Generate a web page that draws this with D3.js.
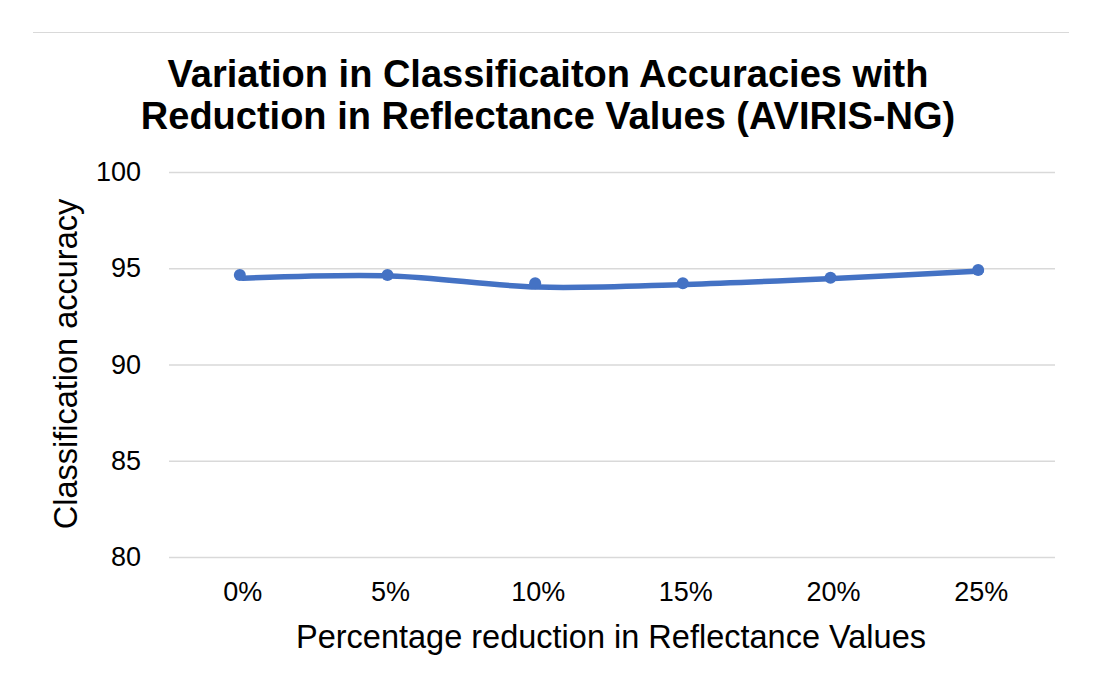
<!DOCTYPE html>
<html>
<head>
<meta charset="utf-8">
<script src="https://cdn.jsdelivr.net/npm/d3@7"></script>
<style>
  body { margin: 0; background: #fff; }
  text { font-family: "Liberation Sans", Arial, sans-serif; }
</style>
</head>
<body>
<svg id="chart" width="1102" height="677"></svg>
<script>
// data
var categories = [ '0%', '5%', '10%', '15%', '20%', '25%' ];
var markerValues = [ 94.65, 94.65, 94.22, 94.22, 94.51, 94.91 ];
var lineValues = [ 94.48, 94.6, 94.02, 94.16, 94.47, 94.86 ];
var yTicks = [ 80, 85, 90, 95, 100 ];

var svg = d3.select( '#chart' );

var plotLeft = 169, plotRight = 1055, plotTop = 172, plotBottom = 557;

var xScale = d3.scaleBand()
	.domain( categories )
	.range( [ plotLeft, plotRight ] );

var yScale = d3.scaleLinear()
	.domain( [ 80, 100 ] )
	.range( [ plotBottom, plotTop ] );

// chart frame top line
svg.append( 'line' )
	.attr( 'x1', 33 ).attr( 'x2', 1069 )
	.attr( 'y1', 32.5 ).attr( 'y2', 32.5 )
	.attr( 'stroke', '#d9d9d9' )
	.attr( 'stroke-width', 1 );

// gridlines + y labels
var yAxis = d3.axisLeft( yScale )
	.tickValues( yTicks )
	.tickSize( -( plotRight - plotLeft ) )
	.tickPadding( 28 );

var gy = svg.append( 'g' )
	.attr( 'transform', 'translate(' + plotLeft + ',0)' )
	.call( yAxis );
gy.select( '.domain' ).remove();
gy.selectAll( '.tick line' )
	.attr( 'stroke', '#d9d9d9' )
	.attr( 'stroke-width', 1.5 );
gy.selectAll( '.tick text' )
	.attr( 'font-size', '27px' )
	.attr( 'fill', '#000' )
	.attr( 'font-family', '"Liberation Sans", Arial, sans-serif' );

// x labels
var xAxis = d3.axisBottom( xScale )
	.tickSize( 0 )
	.tickPadding( 25 );

var gx = svg.append( 'g' )
	.attr( 'transform', 'translate(0,' + plotBottom + ')' )
	.call( xAxis );
gx.select( '.domain' ).remove();
gx.selectAll( '.tick text' )
	.attr( 'font-size', '27px' )
	.attr( 'fill', '#000' )
	.attr( 'font-family', '"Liberation Sans", Arial, sans-serif' );

// smoothed line
var line = d3.line()
	.x( function( d, i ) { return xScale( categories[ i ] ) + xScale.bandwidth() / 2; } )
	.y( function( d ) { return yScale( d ); } )
	.curve( d3.curveCatmullRom.alpha( 0.5 ) );

svg.append( 'path' )
	.datum( lineValues )
	.attr( 'd', line )
	.attr( 'fill', 'none' )
	.attr( 'stroke', '#4472c4' )
	.attr( 'stroke-width', 5.5 )
	.attr( 'stroke-linecap', 'round' );

svg.selectAll( '.dot' )
	.data( markerValues )
	.enter()
	.append( 'circle' )
	.attr( 'class', 'dot' )
	.attr( 'cx', function( d, i ) { return xScale( categories[ i ] ) + xScale.bandwidth() / 2 - 3; } )
	.attr( 'cy', function( d ) { return yScale( d ); } )
	.attr( 'r', 6 )
	.attr( 'fill', '#4472c4' );

// title
var title = svg.append( 'text' )
	.attr( 'text-anchor', 'middle' )
	.attr( 'font-size', '38px' )
	.attr( 'font-weight', 'bold' )
	.attr( 'fill', '#000' );
title.append( 'tspan' ).attr( 'x', 548 ).attr( 'y', 87 )
	.text( 'Variation in Classificaiton Accuracies with' );
title.append( 'tspan' ).attr( 'x', 548 ).attr( 'y', 129 )
	.text( 'Reduction in Reflectance Values (AVIRIS-NG)' );

// axis titles
svg.append( 'text' )
	.attr( 'x', 611 ).attr( 'y', 648 )
	.attr( 'text-anchor', 'middle' )
	.attr( 'font-size', '32.5px' )
	.attr( 'fill', '#000' )
	.text( 'Percentage reduction in Reflectance Values' );

svg.append( 'text' )
	.attr( 'transform', 'translate(77,364) rotate(-90)' )
	.attr( 'text-anchor', 'middle' )
	.attr( 'font-size', '32.5px' )
	.attr( 'fill', '#000' )
	.text( 'Classification accuracy' );
</script>
</body>
</html>
